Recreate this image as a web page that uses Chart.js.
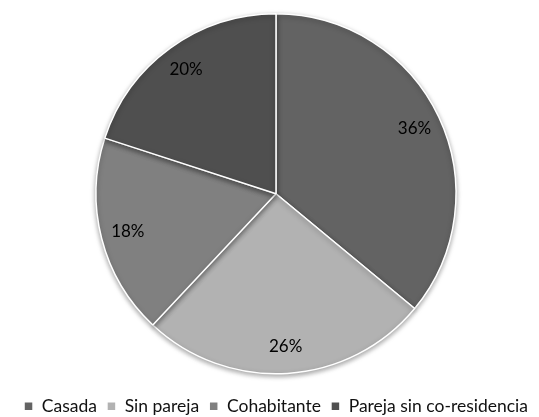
<!DOCTYPE html>
<html>
<head>
<meta charset="utf-8">
<script src="https://cdn.jsdelivr.net/npm/chart.js@4/dist/chart.umd.min.js"></script>
<style>
  html, body { margin: 0; padding: 0; background: #fff; }
  #wrap { width: 539px; height: 417px; }
</style>
</head>
<body>
<div id="wrap"><canvas id="myChart" width="539" height="417"></canvas></div>
<script>
const categories = ['Casada', 'Sin pareja', 'Cohabitante', 'Pareja sin co-residencia']
const shares = [36, 26, 18, 20]
const sliceColors = ['#636363', '#b2b2b2', '#808080', '#4f4f4f']

// percent labels sitting inside each slice
const pctLabels = {
  id: 'pctLabels',
  afterDatasetsDraw(chart) {
    const ctx = chart.ctx
    const meta = chart.getDatasetMeta(0)
    ctx.save()
    ctx.font = '17px Lato'
    ctx.fillStyle = '#000'
    ctx.textAlign = 'center'
    ctx.textBaseline = 'middle'
    meta.data.forEach((arc, i) => {
      const mid = (arc.startAngle + arc.endAngle) / 2
      const r = arc.outerRadius * 0.85
      ctx.fillText(shares[i] + '%', arc.x + Math.cos(mid) * r, arc.y + Math.sin(mid) * r)
    })
    ctx.restore()
  }
}

// soft drop shadow under the pie
const pieShadow = {
  id: 'pieShadow',
  beforeDatasetsDraw(chart) {
    const ctx = chart.ctx
    ctx.save()
    ctx.shadowColor = 'rgba(0,0,0,0.35)'
    ctx.shadowBlur = 5
    ctx.shadowOffsetY = 2
  },
  afterDatasetsDraw(chart) {
    chart.ctx.restore()
  }
}

const myChart = new Chart(document.getElementById('myChart').getContext('2d'), {
  type: 'pie',
  data: {
    labels: categories,
    datasets: [{
      data: shares,
      backgroundColor: sliceColors,
      borderColor: '#ffffff',
      borderWidth: 1.5,
      radius: 180
    }]
  },
  options: {
    responsive: false,
    animation: false,
    layout: { padding: { top: 0, left: 13, right: 0, bottom: -8 } },
    plugins: {
      tooltip: { enabled: false },
      legend: {
        position: 'bottom',
        labels: {
          boxWidth: 9,
          boxHeight: 9,
          padding: 10,
          color: '#111',
          font: { family: 'Lato', size: 17.5 }
        }
      }
    }
  },
  plugins: [pieShadow, pctLabels]
})
</script>
</body>
</html>
